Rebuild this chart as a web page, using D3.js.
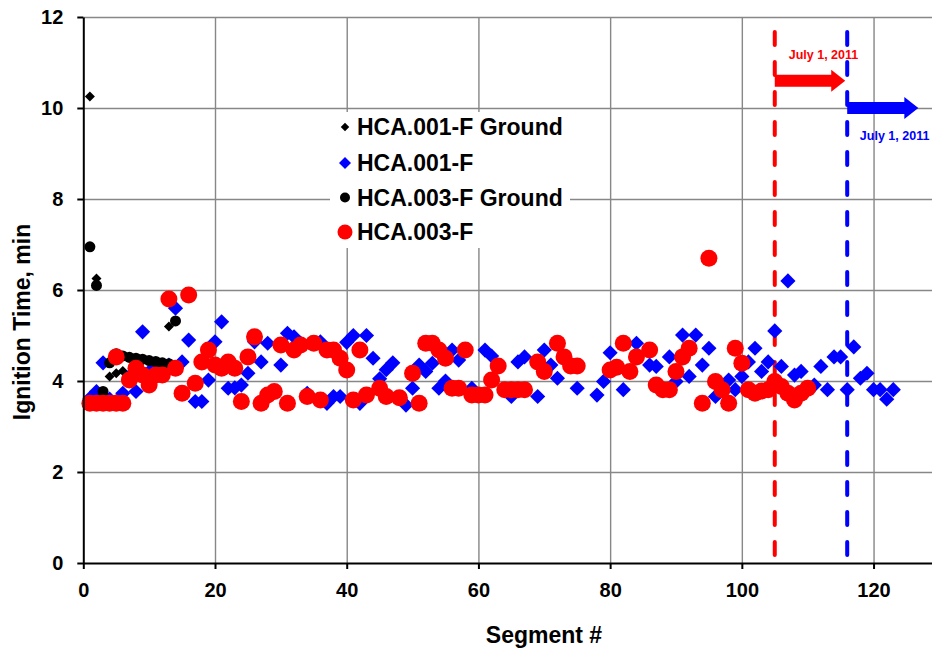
<!DOCTYPE html>
<html>
<head>
<meta charset="utf-8">
<script src="https://cdn.jsdelivr.net/npm/d3@7"></script>
<style>
  body { margin: 0; background: #fff; }
  text { font-family: Arial, "Liberation Sans", sans-serif; }
</style>
</head>
<body>
<div class="chart"></div>
<script>
// data: [segment #, ignition time (min)]
var hca001Ground = [[1,10.25],[2,6.25],[4,4.1],[5,4.17],[6,4.22],[7,4.5],[8,4.48],[9,4.45],[10,4.43],[11,4.4],[12,4.38],[13,5.2]];

var hca001 = [[1,3.62],[2,3.77],[3,4.4],[4,3.6],[5,3.55],[6,3.73],[7,4.1],[8,3.77],[9,5.08],[10,4.2],[11,4.3],[12,4.13],[13,4.35],
  [14,5.6],[15,4.42],[16,4.9],[17,3.55],[18,3.55],[19,4.02],[20,4.86],[21,5.3],[22,3.84],[23,3.85],[24,3.91],[25,4.17],
  [26,4.86],[27,4.42],[28,4.83],[30,4.35],[31,5.05],[32,4.97],[33,4.83],[34,3.73],[36,4.86],[37,3.51],[38,3.66],[39,3.66],
  [40,4.85],[41,5.0],[42,3.51],[43,5.0],[44,4.5],[45,4.05],[46,4.25],[47,4.4],[49,3.47],[50,3.84],[51,4.35],[52,4.21],
  [53,4.39],[54,3.84],[55,4.0],[56,4.68],[57,4.46],[59,3.84],[61,4.68],[62,4.55],[65,3.66],[66,4.42],[67,4.53],[69,3.66],
  [70,4.68],[71,4.35],[72,4.06],[75,3.84],[78,3.69],[79,3.99],[80,4.62],[82,3.81],[84,4.83],[86,4.35],[87,4.32],[89,4.53],
  [90,3.99],[91,5.01],[92,4.1],[93,5.01],[94,4.35],[95,4.72],[96,3.66],[98,4.02],[99,3.81],[100,4.1],[101,4.42],[102,4.72],
  [103,4.21],[104,4.42],[105,5.1],[106,4.32],[107,6.2],[108,4.13],[109,4.21],[111,3.91],[112,4.32],[113,3.81],[114,4.53],
  [115,4.53],[116,3.81],[117,4.75],[118,4.06],[119,4.17],[120,3.81],[121,3.81],[122,3.6],[123,3.81]];

var hca003Ground = [[1,6.95],[2,6.1],[3,3.77],[4,4.4],[5,4.6],[6,4.55],[7,4.52],[8,4.5],[9,4.48],[10,4.45],[11,4.43],[12,4.4],[13,4.38],[14,5.32]];

var hca003 = [[1,3.51],[2,3.51],[3,3.51],[4,3.51],[5,3.51],[5,4.53],[6,3.51],[7,4.02],[8,4.28],[9,4.13],[10,3.91],[11,4.13],[12,4.13],
  [13,5.8],[14,4.28],[15,3.73],[16,5.89],[17,3.95],[18,4.42],[19,4.68],[20,4.35],[21,4.28],[22,4.42],[23,4.28],[24,3.55],
  [25,4.53],[26,4.97],[27,3.51],[28,3.69],[29,3.77],[30,4.79],[31,3.51],[32,4.68],[33,4.79],[34,3.66],[35,4.83],[36,3.58],
  [37,4.68],[38,4.68],[39,4.5],[40,4.24],[41,3.58],[42,4.68],[43,3.69],[45,3.84],[46,3.66],[48,3.63],[50,4.17],[51,3.51],
  [52,4.83],[53,4.83],[54,4.68],[55,4.5],[56,3.84],[57,3.84],[58,4.68],[59,3.69],[60,3.69],[61,3.69],[62,4.02],[63,4.33],
  [64,3.81],[65,3.81],[66,3.81],[67,3.81],[69,4.42],[70,4.21],[72,4.83],[73,4.53],[74,4.33],[75,4.33],[80,4.24],[81,4.3],
  [82,4.83],[83,4.21],[84,4.53],[86,4.68],[87,3.91],[88,3.81],[89,3.81],[90,4.21],[91,4.53],[92,4.72],[94,3.51],[95,6.7],
  [96,3.99],[97,3.81],[98,3.51],[99,4.72],[100,4.39],[101,3.81],[102,3.73],[103,3.78],[104,3.81],[105,3.99],[106,3.88],
  [107,3.73],[108,3.58],[109,3.73],[110,3.84]];

var xTicks = [0,20,40,60,80,100,120];
var yTicks = [0,2,4,6,8,10,12];

// cut-over markers (segment where the change applies) and their arrows
var cutoverSegments = [105, 116];
var cutoverColors = ['#ff0000', '#0000ff'];
var arrowEnds = [115.7, 126.8];
var arrowLevels = [10.6, 10.0];
var noteLabels = ['July 1, 2011', 'July 1, 2011'];
var notePos = [[112.4, 11.08], [123.2, 9.3]];

var width = 932, height = 652;

var svg = d3.select(".chart")
  .append("svg")
    .attr("width", width)
    .attr("height", height);

var x = d3.scaleLinear().domain([0, 130]).range([83.3, 939.4]);
var y = d3.scaleLinear().domain([0, 12]).range([563, 17]);

// gridlines
svg.append("g")
    .attr("transform", "translate(0,563)")
    .call(d3.axisBottom(x).tickValues(xTicks.slice(1)).tickSize(-546).tickFormat(""))
    .call(g => g.select(".domain").remove())
    .selectAll("line").attr("stroke", "#878787").attr("stroke-width", 1.4);

svg.append("g")
    .attr("transform", "translate(83.3,0)")
    .call(d3.axisLeft(y).tickValues(yTicks.slice(1)).tickSize(-860).tickFormat(""))
    .call(g => g.select(".domain").remove())
    .selectAll("line").attr("stroke", "#878787").attr("stroke-width", 1.4);

// dashed cut-over lines
svg.selectAll(".cutover")
  .data(cutoverSegments)
  .enter().append("line")
    .attr("class", "cutover")
    .attr("x1", d => x(d)).attr("x2", d => x(d))
    .attr("y1", y(12)).attr("y2", y(0))
    .attr("stroke", (d, i) => cutoverColors[i])
    .attr("stroke-width", 4)
    .attr("stroke-linecap", "round")
    .attr("stroke-dasharray", "13,17")
    .attr("stroke-dashoffset", 15);

// arrows
function arrowPath(x0, x1, yc, shaft, head, headLen) {
  return "M" + x0 + "," + (yc - shaft) + "H" + (x1 - headLen) + "V" + (yc - head) +
    "L" + x1 + "," + yc + "L" + (x1 - headLen) + "," + (yc + head) +
    "V" + (yc + shaft) + "H" + x0 + "Z";
}
svg.selectAll(".arrow")
  .data(cutoverSegments)
  .enter().append("path")
    .attr("class", "arrow")
    .attr("d", (d, i) => arrowPath(x(d), x(arrowEnds[i]), y(arrowLevels[i]), 6, 11, 14))
    .attr("fill", (d, i) => cutoverColors[i]);

svg.selectAll(".note")
  .data(noteLabels)
  .enter().append("text")
    .attr("class", "note")
    .attr("x", (d, i) => x(notePos[i][0]))
    .attr("y", (d, i) => y(notePos[i][1]))
    .attr("text-anchor", "middle")
    .attr("font-size", "12.5px")
    .attr("font-weight", "bold")
    .attr("fill", (d, i) => cutoverColors[i])
    .text(d => d);

// markers
var diamond = function(size) {
  return d3.symbol().type(d3.symbolSquare).size(size)();
};

svg.append("g").selectAll("path")
  .data(hca001Ground)
  .enter().append("path")
    .attr("d", diamond(50))
    .attr("transform", d => "translate(" + x(d[0]) + "," + y(d[1]) + ") rotate(45)")
    .attr("fill", "#000");

svg.append("g").selectAll("path")
  .data(hca001)
  .enter().append("path")
    .attr("d", diamond(115))
    .attr("transform", d => "translate(" + x(d[0]) + "," + y(d[1]) + ") rotate(45)")
    .attr("fill", "#0000ff");

svg.append("g").selectAll("circle")
  .data(hca003Ground)
  .enter().append("circle")
    .attr("cx", d => x(d[0]))
    .attr("cy", d => y(d[1]))
    .attr("r", 5.5)
    .attr("fill", "#000");

svg.append("g").selectAll("circle")
  .data(hca003)
  .enter().append("circle")
    .attr("cx", d => x(d[0]))
    .attr("cy", d => y(d[1]))
    .attr("r", 8.5)
    .attr("fill", "#ff0000");

// axes
var xAxis = svg.append("g")
    .attr("transform", "translate(0,563)")
    .call(d3.axisBottom(x).tickValues(xTicks).tickSize(6).tickSizeOuter(0).tickPadding(14));
var yAxis = svg.append("g")
    .attr("transform", "translate(83.3,0)")
    .call(d3.axisLeft(y).tickValues(yTicks).tickSize(6).tickSizeOuter(0).tickPadding(14));

[xAxis, yAxis].forEach(function(ax) {
  ax.select(".domain").attr("stroke", "#000").attr("stroke-width", 2);
  ax.selectAll("line").attr("stroke", "#000").attr("stroke-width", 2);
  ax.selectAll("text")
    .attr("font-size", "20px")
    .attr("font-weight", "bold")
    .attr("fill", "#000")
    .style("font-family", "Arial, 'Liberation Sans', sans-serif");
});
xAxis.selectAll("text").attr("dy", "0.71em").attr("y", 20);
yAxis.selectAll("text").attr("x", -20);

// axis titles
svg.append("text")
    .attr("x", 544)
    .attr("y", 643)
    .attr("text-anchor", "middle")
    .attr("font-size", "23px")
    .attr("font-weight", "bold")
    .text("Segment #");

svg.append("text")
    .attr("transform", "translate(30,322) rotate(-90)")
    .attr("text-anchor", "middle")
    .attr("font-size", "23px")
    .attr("font-weight", "bold")
    .text("Ignition Time, min");

// legend
var legendNames = ["HCA.001-F Ground", "HCA.001-F", "HCA.003-F Ground", "HCA.003-F"];
var legend = svg.append("g");
legend.append("rect")
    .attr("x", 330).attr("y", 112)
    .attr("width", 240).attr("height", 136)
    .attr("fill", "#fff");

var rows = legend.selectAll(".row")
  .data(legendNames)
  .enter().append("g")
    .attr("class", "row")
    .attr("transform", (d, i) => "translate(345," + [127, 163, 197.5, 232][i] + ")");

rows.each(function(d, i) {
  var g = d3.select(this);
  if (i === 0) g.append("path").attr("d", diamond(36)).attr("transform", "rotate(45)").attr("fill", "#000");
  if (i === 1) g.append("path").attr("d", diamond(72)).attr("transform", "rotate(45)").attr("fill", "#0000ff");
  if (i === 2) g.append("circle").attr("r", 5).attr("fill", "#000");
  if (i === 3) g.append("circle").attr("r", 7.5).attr("fill", "#ff0000");
});

rows.append("text")
    .attr("x", 12)
    .attr("y", 8)
    .attr("font-size", "23px")
    .attr("font-weight", "bold")
    .text(d => d);
</script>
</body>
</html>
